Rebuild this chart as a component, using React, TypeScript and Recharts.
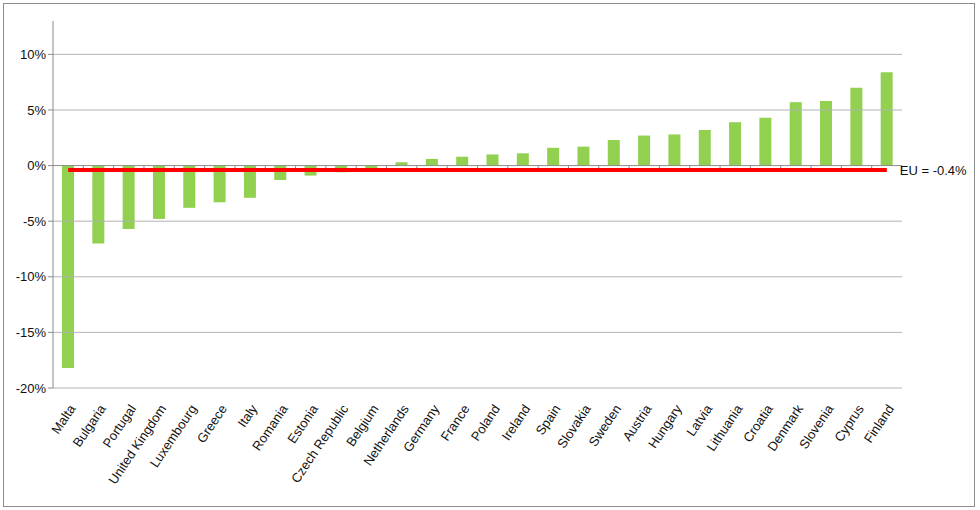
import {
  Bar,
  ComposedChart,
  Line,
  ReferenceLine,
  XAxis,
  YAxis,
} from "recharts";

const countries = [
  "Malta", "Bulgaria", "Portugal", "United Kingdom", "Luxembourg", "Greece", "Italy",
  "Romania", "Estonia", "Czech Republic", "Belgium", "Netherlands", "Germany", "France",
  "Poland", "Ireland", "Spain", "Slovakia", "Sweden", "Austria", "Hungary", "Latvia",
  "Lithuania", "Croatia", "Denmark", "Slovenia", "Cyprus", "Finland",
];

const change = [
  -18.2, -7.0, -5.7, -4.8, -3.8, -3.3, -2.9, -1.3, -0.9, -0.6, -0.3, 0.3, 0.6, 0.8,
  1.0, 1.1, 1.6, 1.7, 2.3, 2.7, 2.8, 3.2, 3.9, 4.3, 5.7, 5.8, 7.0, 8.4,
];

const euAverage = -0.4;
const yTicks = [-20, -15, -10, -5, 0, 5, 10];

const data = countries.map((country, i) => ({
  country,
  change: change[i],
  eu: euAverage,
}));

const FONT = "'Liberation Sans', Arial, sans-serif";

function CountryTick({ x, y, payload }: any) {
  return (
    <g transform={`translate(${x + 4},${y + 10})`}>
      <text
        transform="rotate(-56)"
        textAnchor="end"
        dy="0.35em"
        fontFamily={FONT}
        fontSize={13}
        fill="#111"
      >
        {payload.value}
      </text>
    </g>
  );
}

function EuLabel({ x, y, index }: any) {
  if (index !== countries.length - 1) return null;
  return (
    <text x={x + 13} y={y} dy="0.35em" fontFamily={FONT} fontSize={13} fill="#111">
      {`EU = ${euAverage}%`}
    </text>
  );
}

// zero axis line with small ticks between categories
function ZeroAxis({ x1, x2, y1 }: any) {
  const step = (x2 - x1) / countries.length;
  return (
    <g stroke="#8c8c8c" strokeWidth={1}>
      <line x1={x1} x2={x2} y1={y1} y2={y1} />
      {countries.map((_, i) => (
        <line key={i} x1={x1 + step * (i + 1)} x2={x1 + step * (i + 1)} y1={y1} y2={y1 + 4} />
      ))}
    </g>
  );
}

export default function App() {
  return (
    <div style={{ position: "absolute", left: 0, top: 0, width: 980, height: 510, background: "#fff" }}>
      <div
        style={{
          position: "absolute",
          left: 3,
          top: 3,
          width: 972,
          height: 504,
          border: "1px solid #8c8c8c",
          boxSizing: "border-box",
        }}
      />
      <div style={{ position: "absolute", left: 0, top: 0 }}>
        <ComposedChart
          width={980}
          height={510}
          data={data}
          margin={{ top: 21, right: 78, bottom: 22, left: 8 }}
        >
          {yTicks
            .filter((v) => v !== 0)
            .map((v) => (
              <ReferenceLine key={v} y={v} stroke="#b3b3b3" />
            ))}
          <XAxis
            dataKey="country"
            interval={0}
            height={100}
            axisLine={false}
            tickLine={false}
            tick={<CountryTick />}
          />
          <YAxis
            width={45}
            domain={[-20, 13]}
            ticks={yTicks}
            allowDataOverflow
            stroke="#8c8c8c"
            tickSize={5}
            tickFormatter={(v) => `${v}%`}
            tick={{ fill: "#111", fontFamily: FONT, fontSize: 13 }}
          />
          <Bar dataKey="change" fill="#92d050" barSize={12} isAnimationActive={false} />
          <ReferenceLine y={0} shape={<ZeroAxis />} />
          <Line
            dataKey="eu"
            stroke="#ff0000"
            strokeWidth={4}
            dot={false}
            activeDot={false}
            label={<EuLabel />}
            isAnimationActive={false}
          />
        </ComposedChart>
      </div>
    </div>
  );
}
